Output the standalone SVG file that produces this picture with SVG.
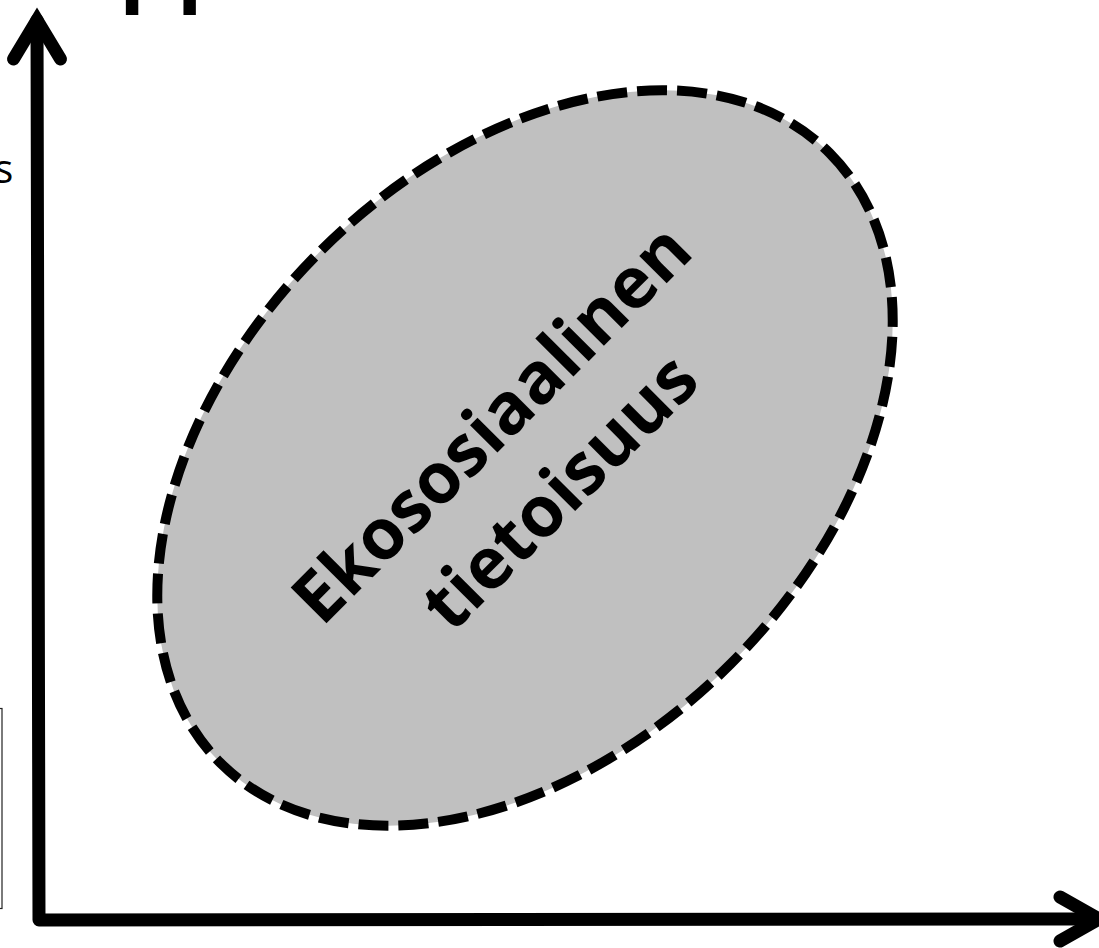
<svg xmlns="http://www.w3.org/2000/svg" width="1099" height="948" viewBox="0 0 1099 948">
  <style>
    .axis { fill: none; stroke: #000; stroke-width: 13; stroke-linejoin: round; stroke-linecap: round; }
    .head { fill: none; stroke: #000; stroke-width: 13; stroke-linejoin: miter; stroke-miterlimit: 10; stroke-linecap: round; }
    .blob { fill: #c0c0c0; stroke: #000; stroke-width: 10; stroke-dasharray: 30 10; }
    .lbl { font-family: "Open Sans", "Noto Sans", "DejaVu Sans", sans-serif; font-weight: 700; font-size: 71px; fill: #000; text-anchor: middle; }
    .edge { font-family: "Open Sans", "Noto Sans", sans-serif; font-size: 40px; fill: #000; }
  </style>
  <rect width="1099" height="948" fill="#fff"/>

  <g id="node-frame">
    <rect x="-100" y="708.5" width="102" height="200" fill="none" stroke="#222" stroke-width="1.2"/>
  </g>

  <g id="node-cut-texts">
    <text class="edge" x="13.3" y="182.5" text-anchor="end">s</text>
    <text x="113.6" y="15" font-family="DejaVu Sans, sans-serif" font-size="126px" fill="#000">H</text>
  </g>

  <g id="node-ekososiaalinen-tietoisuus">
    <ellipse class="blob" cx="525" cy="458" rx="431" ry="291" transform="rotate(-45 525 458)"/>
    <g transform="rotate(-45)">
      <text class="lbl" x="48" y="671.7">Ekososiaalinen</text>
      <text class="lbl" x="48" y="768">tietoisuus</text>
    </g>
  </g>

  <g id="connectors">
    <path class="axis" d="M37,20 L39,920 L1097,919"/>
    <polyline class="head" points="13.5,59 37,20 60.5,59"/>
    <polyline class="head" points="1060,897 1099,919 1060,941"/>
  </g>
</svg>
